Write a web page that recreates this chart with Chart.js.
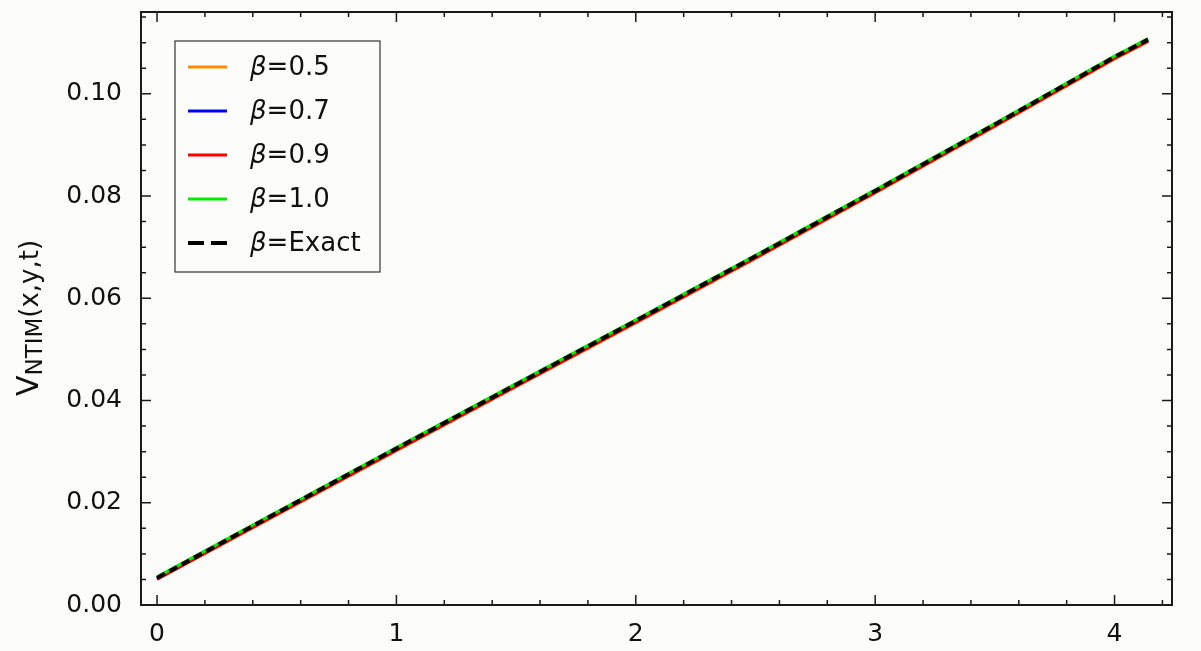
<!DOCTYPE html>
<html lang="en">
<head>
  <meta charset="UTF-8"/>
  <title>V_NTIM(x,y,t)</title>
  <script src="https://cdn.jsdelivr.net/npm/chart.js"></script>
  <style>
    html, body { margin: 0; padding: 0; background: #fcfcfb; }
    #wrap { width: 1201px; height: 651px; position: relative; }
  </style>
</head>
<body>
  <div id="wrap"><canvas id="chart"></canvas></div>

  <script>
    // values
    const xs = [0, 0.5, 1, 1.5, 2, 2.5, 3, 3.5, 4, 4.14];
    const beta05 = [0.0050, 0.0176, 0.0302, 0.0427, 0.0552, 0.0678, 0.0806, 0.0936, 0.1068, 0.1102];
    const beta07 = [0.0051, 0.0178, 0.0304, 0.0429, 0.0554, 0.0680, 0.0808, 0.0938, 0.1070, 0.1104];
    const beta09 = [0.0051, 0.0177, 0.0303, 0.0428, 0.0553, 0.0679, 0.0807, 0.0937, 0.1069, 0.1103];
    const beta10 = [0.0055, 0.0182, 0.0308, 0.0433, 0.0558, 0.0684, 0.0812, 0.0942, 0.1074, 0.1108];
    const exact  = [0.0053, 0.0180, 0.0306, 0.0431, 0.0556, 0.0682, 0.0810, 0.0940, 0.1072, 0.1106];

    const legendLabels = ['0.5', '0.7', '0.9', '1.0', 'Exact'];
    const xTickValues = [0, 1, 2, 3, 4];
    const yTickValues = [0, 0.02, 0.04, 0.06, 0.08, 0.10];

    const FONT = '"DejaVu Sans", sans-serif';
    const pts = ys => xs.map((x, i) => ({ x, y: ys[i] }));

    function series(label, ys, color, order, dash) {
      return {
        label, data: pts(ys), borderColor: color, backgroundColor: color,
        borderWidth: dash ? 4 : 3, borderDash: dash || [], pointRadius: 0,
        tension: 0, fill: false, order
      };
    }

    // inward ticks on all four sides, frame, legend, y title
    const decor = {
      id: 'decor',
      afterDraw(chart) {
        const { ctx, chartArea: a, scales: { x, y } } = chart;
        ctx.save();
        ctx.strokeStyle = '#1a1a1a';
        ctx.lineWidth = 1.5;

        const tickX = (v, len) => {
          const px = x.getPixelForValue(v);
          ctx.beginPath();
          ctx.moveTo(px, a.bottom); ctx.lineTo(px, a.bottom - len);
          ctx.moveTo(px, a.top); ctx.lineTo(px, a.top + len);
          ctx.stroke();
        };
        const tickY = (v, len) => {
          const py = y.getPixelForValue(v);
          ctx.beginPath();
          ctx.moveTo(a.left, py); ctx.lineTo(a.left + len, py);
          ctx.moveTo(a.right, py); ctx.lineTo(a.right - len, py);
          ctx.stroke();
        };
        for (let i = 0; i <= 21; i++) tickX(i * 0.2, i % 5 === 0 ? 10 : 5);
        for (let i = 0; i <= 23; i++) tickY(i * 0.005, i % 4 === 0 ? 10 : 5);

        ctx.lineWidth = 2;
        ctx.strokeRect(a.left, a.top, a.right - a.left, a.bottom - a.top);

        // legend
        const bx = 175, by = 41, bw = 205, bh = 231;
        ctx.fillStyle = '#fcfcfb';
        ctx.fillRect(bx, by, bw, bh);
        ctx.lineWidth = 1.2;
        ctx.strokeStyle = '#333';
        ctx.strokeRect(bx, by, bw, bh);
        chart.data.datasets.forEach((ds, i) => {
          const ry = 67 + i * 44;
          ctx.beginPath();
          ctx.strokeStyle = ds.borderColor;
          ctx.lineWidth = ds.borderDash.length ? 4 : 3;
          ctx.setLineDash(ds.borderDash.length ? [16, 7] : []);
          ctx.moveTo(188, ry); ctx.lineTo(227, ry);
          ctx.stroke();
          ctx.setLineDash([]);
          ctx.fillStyle = '#111';
          ctx.textBaseline = 'middle';
          ctx.textAlign = 'left';
          ctx.font = 'italic 26px ' + FONT;
          ctx.fillText('β', 250, ry + 1);
          const w = ctx.measureText('β').width;
          ctx.font = '26px ' + FONT;
          ctx.fillText('=' + legendLabels[i], 250 + w, ry + 1);
        });

        // y axis title, rotated, with subscript
        ctx.translate(38, 318);
        ctx.rotate(-Math.PI / 2);
        ctx.textBaseline = 'alphabetic';
        ctx.textAlign = 'left';
        const parts = [['V', 30, 0], ['NTIM', 23, 4], ['(x,y,t)', 26, 0]];
        let total = 0;
        parts.forEach(p => { ctx.font = p[1] + 'px ' + FONT; total += ctx.measureText(p[0]).width; });
        let cx = -total / 2;
        parts.forEach(p => {
          ctx.font = p[1] + 'px ' + FONT;
          ctx.fillText(p[0], cx, p[2]);
          cx += ctx.measureText(p[0]).width;
        });
        ctx.restore();
      }
    };

    const ctx = document.getElementById('chart').getContext('2d');
    new Chart(ctx, {
      type: 'line',
      data: {
        datasets: [
          series('β=0.5', beta05, '#ff8c00', 4),
          series('β=0.7', beta07, '#0000ff', 3),
          series('β=0.9', beta09, '#ff0000', 2),
          series('β=1.0', beta10, '#00ee00', 1),
          series('β=Exact', exact, '#000000', 0, [9, 5])
        ]
      },
      options: {
        responsive: true,
        maintainAspectRatio: false,
        animation: false,
        layout: { padding: { top: 12, right: 29, left: 0, bottom: 0 } },
        plugins: { legend: { display: false }, tooltip: { enabled: false } },
        scales: {
          x: {
            type: 'linear',
            min: -0.067, max: 4.24,
            grid: { display: false, drawTicks: false },
            border: { display: false },
            afterFit: s => { s.height = 46; s.paddingLeft = 0; s.paddingRight = 0; },
            afterBuildTicks: s => { s.ticks = xTickValues.map(v => ({ value: v })); },
            ticks: {
              padding: 14,
              color: '#111',
              font: { family: FONT, size: 25 },
              callback: v => String(v)
            }
          },
          y: {
            min: 0, max: 0.116,
            grid: { display: false, drawTicks: false },
            border: { display: false },
            afterFit: s => { s.width = 141; s.paddingTop = 0; s.paddingBottom = 0; },
            afterBuildTicks: s => { s.ticks = yTickValues.map(v => ({ value: v })); },
            ticks: {
              padding: 19,
              color: '#111',
              font: { family: FONT, size: 25 },
              callback: v => v.toFixed(2)
            }
          }
        }
      },
      plugins: [decor]
    });
  </script>
</body>
</html>
